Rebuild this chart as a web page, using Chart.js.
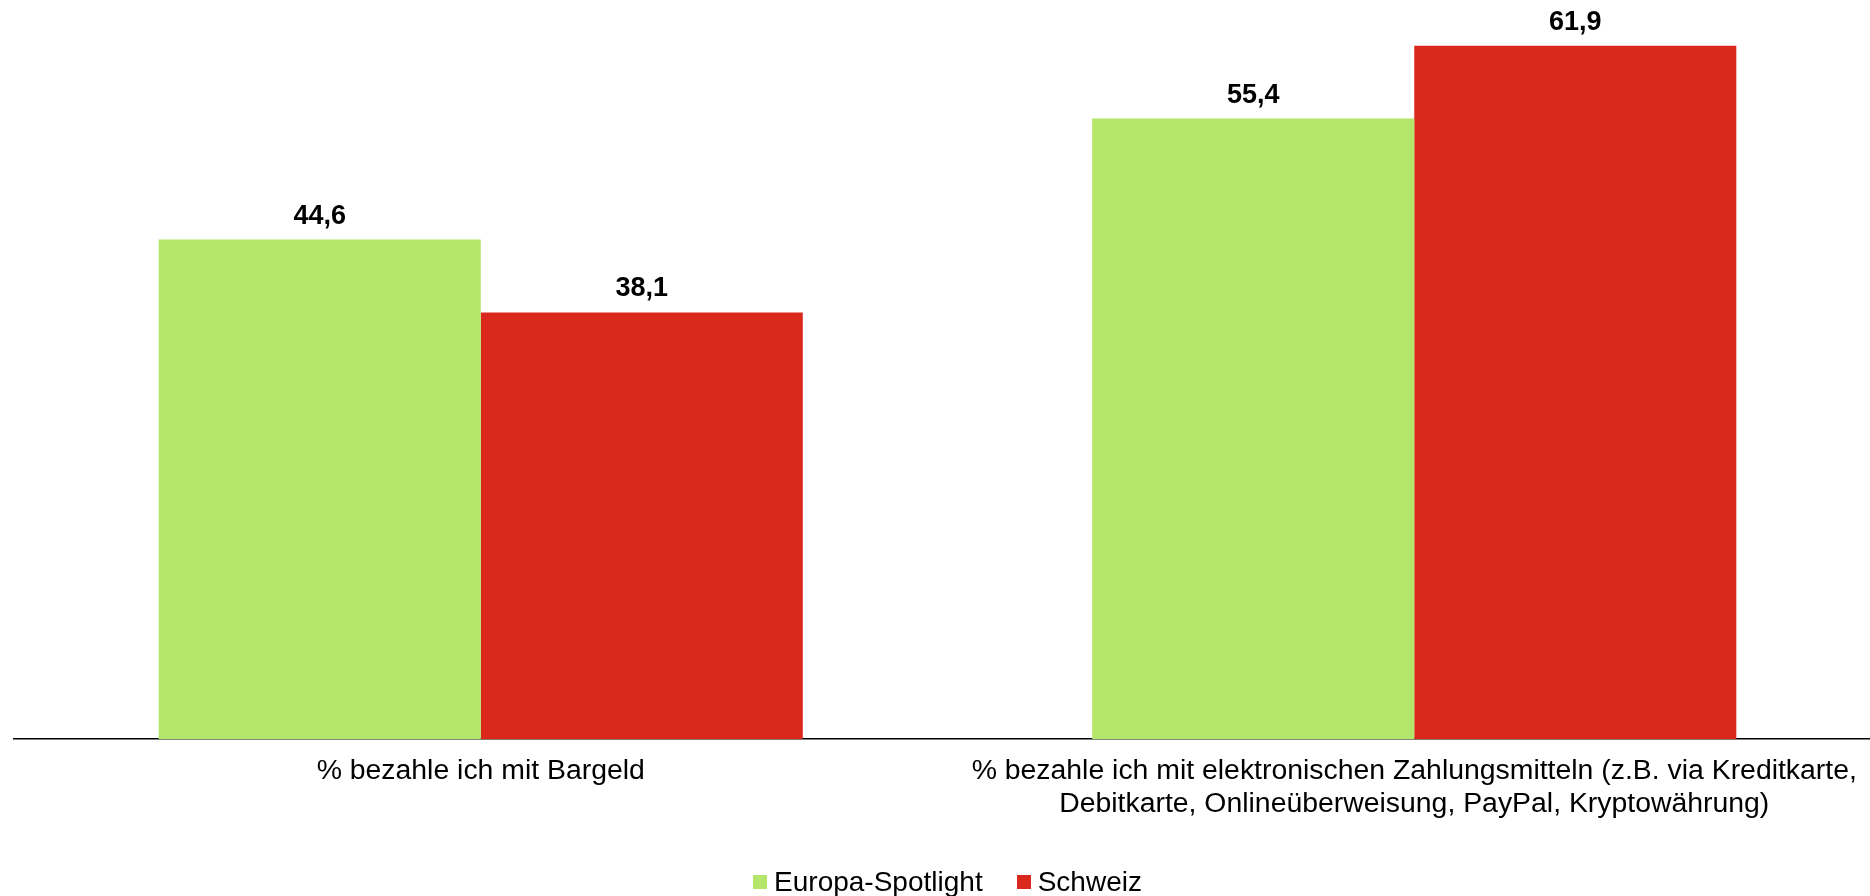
<!DOCTYPE html>
<html>
<head>
<meta charset="utf-8">
<script src="https://cdn.jsdelivr.net/npm/chart.js@4.4.0/dist/chart.umd.min.js"></script>
<style>
  html, body { margin: 0; padding: 0; background: #fff; overflow: hidden; }
  #wrap { position: relative; width: 1900px; height: 896px; }
  #legend {
    position: absolute; left: 0; width: 1895px; top: 866px;
    display: flex; justify-content: center; align-items: center;
    font-family: "Liberation Sans", Arial, sans-serif; font-size: 28px; color: #000;
  }
  #legend span.item { display: flex; align-items: center; margin: 0 17px; }
  #legend span.box { display: inline-block; width: 14px; height: 14px; margin-right: 7px; }
</style>
</head>
<body>
<div id="wrap">
  <canvas id="pay-chart"></canvas>
  <div id="legend"></div>
</div>
<script>
const categories = [
    "% bezahle ich mit Bargeld",
    ["% bezahle ich mit elektronischen Zahlungsmitteln (z.B. via Kreditkarte,", "Debitkarte, Onlineüberweisung, PayPal, Kryptowährung)"]
]
const seriesNames = ["Europa-Spotlight", "Schweiz"]
const europaValues = [44.6, 55.4]
const schweizValues = [38.1, 61.9]
const seriesColors = ["#b3e66a", "#da291c"]

const fontFamily = '"Liberation Sans", Arial, sans-serif'

// Draws the value above every bar, with a decimal comma
const valueLabels = {
    id: "valueLabels",
    afterDatasetsDraw(chart) {
        const ctx = chart.ctx
        ctx.save()
        ctx.font = "bold 27px " + fontFamily
        ctx.fillStyle = "#000"
        ctx.textAlign = "center"
        ctx.textBaseline = "alphabetic"
        chart.data.datasets.forEach((ds, i) => {
            chart.getDatasetMeta(i).data.forEach((bar, j) => {
                ctx.fillText(ds.data[j].toFixed(1).replace(".", ","), bar.x, bar.y - 16)
            })
        })
        ctx.restore()
    }
}

const chartCtx = document.getElementById("pay-chart")
chartCtx.width = 1900
chartCtx.height = 896

const payChart = new Chart(chartCtx, {
    type: "bar",
    data: {
        labels: categories,
        datasets: [
            { label: seriesNames[0], data: europaValues, backgroundColor: seriesColors[0] },
            { label: seriesNames[1], data: schweizValues, backgroundColor: seriesColors[1] }
        ]
    },
    options: {
        responsive: false,
        animation: false,
        layout: { padding: { left: 14, right: 19, top: 11, bottom: 60 } },
        categoryPercentage: 0.69,
        barPercentage: 1,
        plugins: {
            legend: { display: false },
            tooltip: { enabled: false }
        },
        scales: {
            x: {
                grid: { display: false, drawTicks: false },
                border: { display: true, color: "#000", width: 1.5 },
                ticks: {
                    color: "#000",
                    padding: 16,
                    maxRotation: 0,
                    autoSkip: false,
                    font: { family: fontFamily, size: 28.4, lineHeight: 1.14 }
                }
            },
            y: {
                display: false,
                min: 0,
                max: 65
            }
        }
    },
    plugins: [valueLabels]
})

// HTML legend
const legendBox = document.getElementById("legend")
seriesNames.forEach((name, i) => {
    legendBox.innerHTML += `<span class="item"><span class="box" style="background:${seriesColors[i]}"></span>${name}</span>`
})
</script>
</body>
</html>
